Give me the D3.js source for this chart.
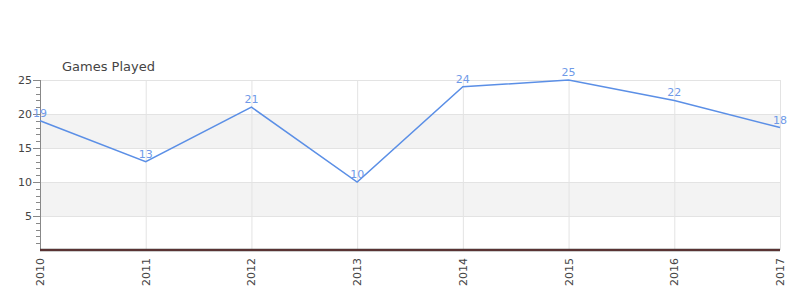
<!DOCTYPE html>
<html>
<head>
  <script src="https://d3js.org/d3.v7.min.js"></script>
  <style>
    body { margin: 0; background: #fff; }
    text { font-family: "DejaVu Sans", sans-serif; }
    .grid line { stroke: #e3e3e3; }
    .grid .domain { stroke: none; }
  </style>
</head>
<body>
  <svg id="chart" width="800" height="300"></svg>
  <script>
    // data
    const years = ["2010", "2011", "2012", "2013", "2014", "2015", "2016", "2017"];
    const games = [19, 13, 21, 10, 24, 25, 22, 18];
    const yTicks = [5, 10, 15, 20, 25];
    const bands = [[15, 20], [5, 10]];

    const svg = d3.select("#chart");
    const margin = { top: 80, right: 20, bottom: 50, left: 40 };
    const chartWidth = 800 - margin.left - margin.right;
    const chartHeight = 300 - margin.top - margin.bottom;

    const xScale = d3.scalePoint().domain(years).range([0, chartWidth]);
    const yScale = d3.scaleLinear().domain([0, 25]).range([chartHeight, 0]);

    const g = svg.append("g").attr("transform", `translate(${margin.left},${margin.top})`);

    // alternating bands
    g.selectAll("rect.band").data(bands).join("rect")
      .attr("class", "band")
      .attr("x", 0)
      .attr("width", chartWidth)
      .attr("y", d => yScale(d[1]))
      .attr("height", d => yScale(d[0]) - yScale(d[1]))
      .attr("fill", "#f3f3f3");

    // gridlines
    g.append("g").attr("class", "grid")
      .call(d3.axisLeft(yScale).tickValues(yTicks).tickSize(-chartWidth).tickFormat(""));
    g.append("g").attr("class", "grid")
      .call(d3.axisTop(xScale).tickSize(-chartHeight).tickFormat(""));

    // y axis
    const yAxis = g.append("g");
    yAxis.append("line").attr("x1", 0.5).attr("x2", 0.5).attr("y1", 0).attr("y2", chartHeight)
      .attr("stroke", "#888");
    yAxis.selectAll("line.minor").data(d3.range(1, 25)).join("line")
      .attr("class", "minor")
      .attr("x1", -4).attr("x2", 0)
      .attr("y1", d => Math.round(yScale(d)) + 0.5).attr("y2", d => Math.round(yScale(d)) + 0.5)
      .attr("stroke", "#888");
    yAxis.selectAll("line.major").data(yTicks).join("line")
      .attr("class", "major")
      .attr("x1", -7).attr("x2", 0)
      .attr("y1", d => Math.round(yScale(d)) + 0.5).attr("y2", d => Math.round(yScale(d)) + 0.5)
      .attr("stroke", "#888");
    yAxis.selectAll("text").data(yTicks).join("text")
      .attr("x", -8).attr("y", d => yScale(d))
      .attr("dy", "0.35em")
      .attr("text-anchor", "end")
      .attr("font-size", 11)
      .attr("fill", "#444")
      .text(d => d);

    // x axis labels
    g.selectAll("text.xlab").data(years).join("text")
      .attr("class", "xlab")
      .attr("transform", d => `translate(${xScale(d) + 4},${chartHeight + 8}) rotate(-90)`)
      .attr("text-anchor", "end")
      .attr("font-size", 11)
      .attr("fill", "#444")
      .text(d => d);

    // base line
    g.append("line").attr("x1", 0).attr("x2", chartWidth)
      .attr("y1", chartHeight).attr("y2", chartHeight)
      .attr("stroke", "#3a3a3a").attr("stroke-width", 2.5);
    g.append("line").attr("x1", 0).attr("x2", chartWidth)
      .attr("y1", chartHeight).attr("y2", chartHeight)
      .attr("stroke", "#c02020").attr("stroke-opacity", 0.6).attr("stroke-width", 0.8);

    // series line
    const line = d3.line().x((d, i) => xScale(years[i])).y(d => yScale(d));
    g.append("path").datum(games)
      .attr("d", line)
      .attr("fill", "none")
      .attr("stroke", "#5b8fe6")
      .attr("stroke-width", 1.5);

    // value labels
    g.selectAll("text.val").data(games).join("text")
      .attr("class", "val")
      .attr("x", (d, i) => xScale(years[i]))
      .attr("y", d => yScale(d) - 4)
      .attr("text-anchor", "middle")
      .attr("font-size", 11)
      .attr("fill", "#6f9ae8")
      .text(d => d);

    // title
    svg.append("text")
      .attr("x", 62).attr("y", 71)
      .attr("font-size", 13)
      .attr("fill", "#444")
      .text("Games Played");
  </script>
</body>
</html>
